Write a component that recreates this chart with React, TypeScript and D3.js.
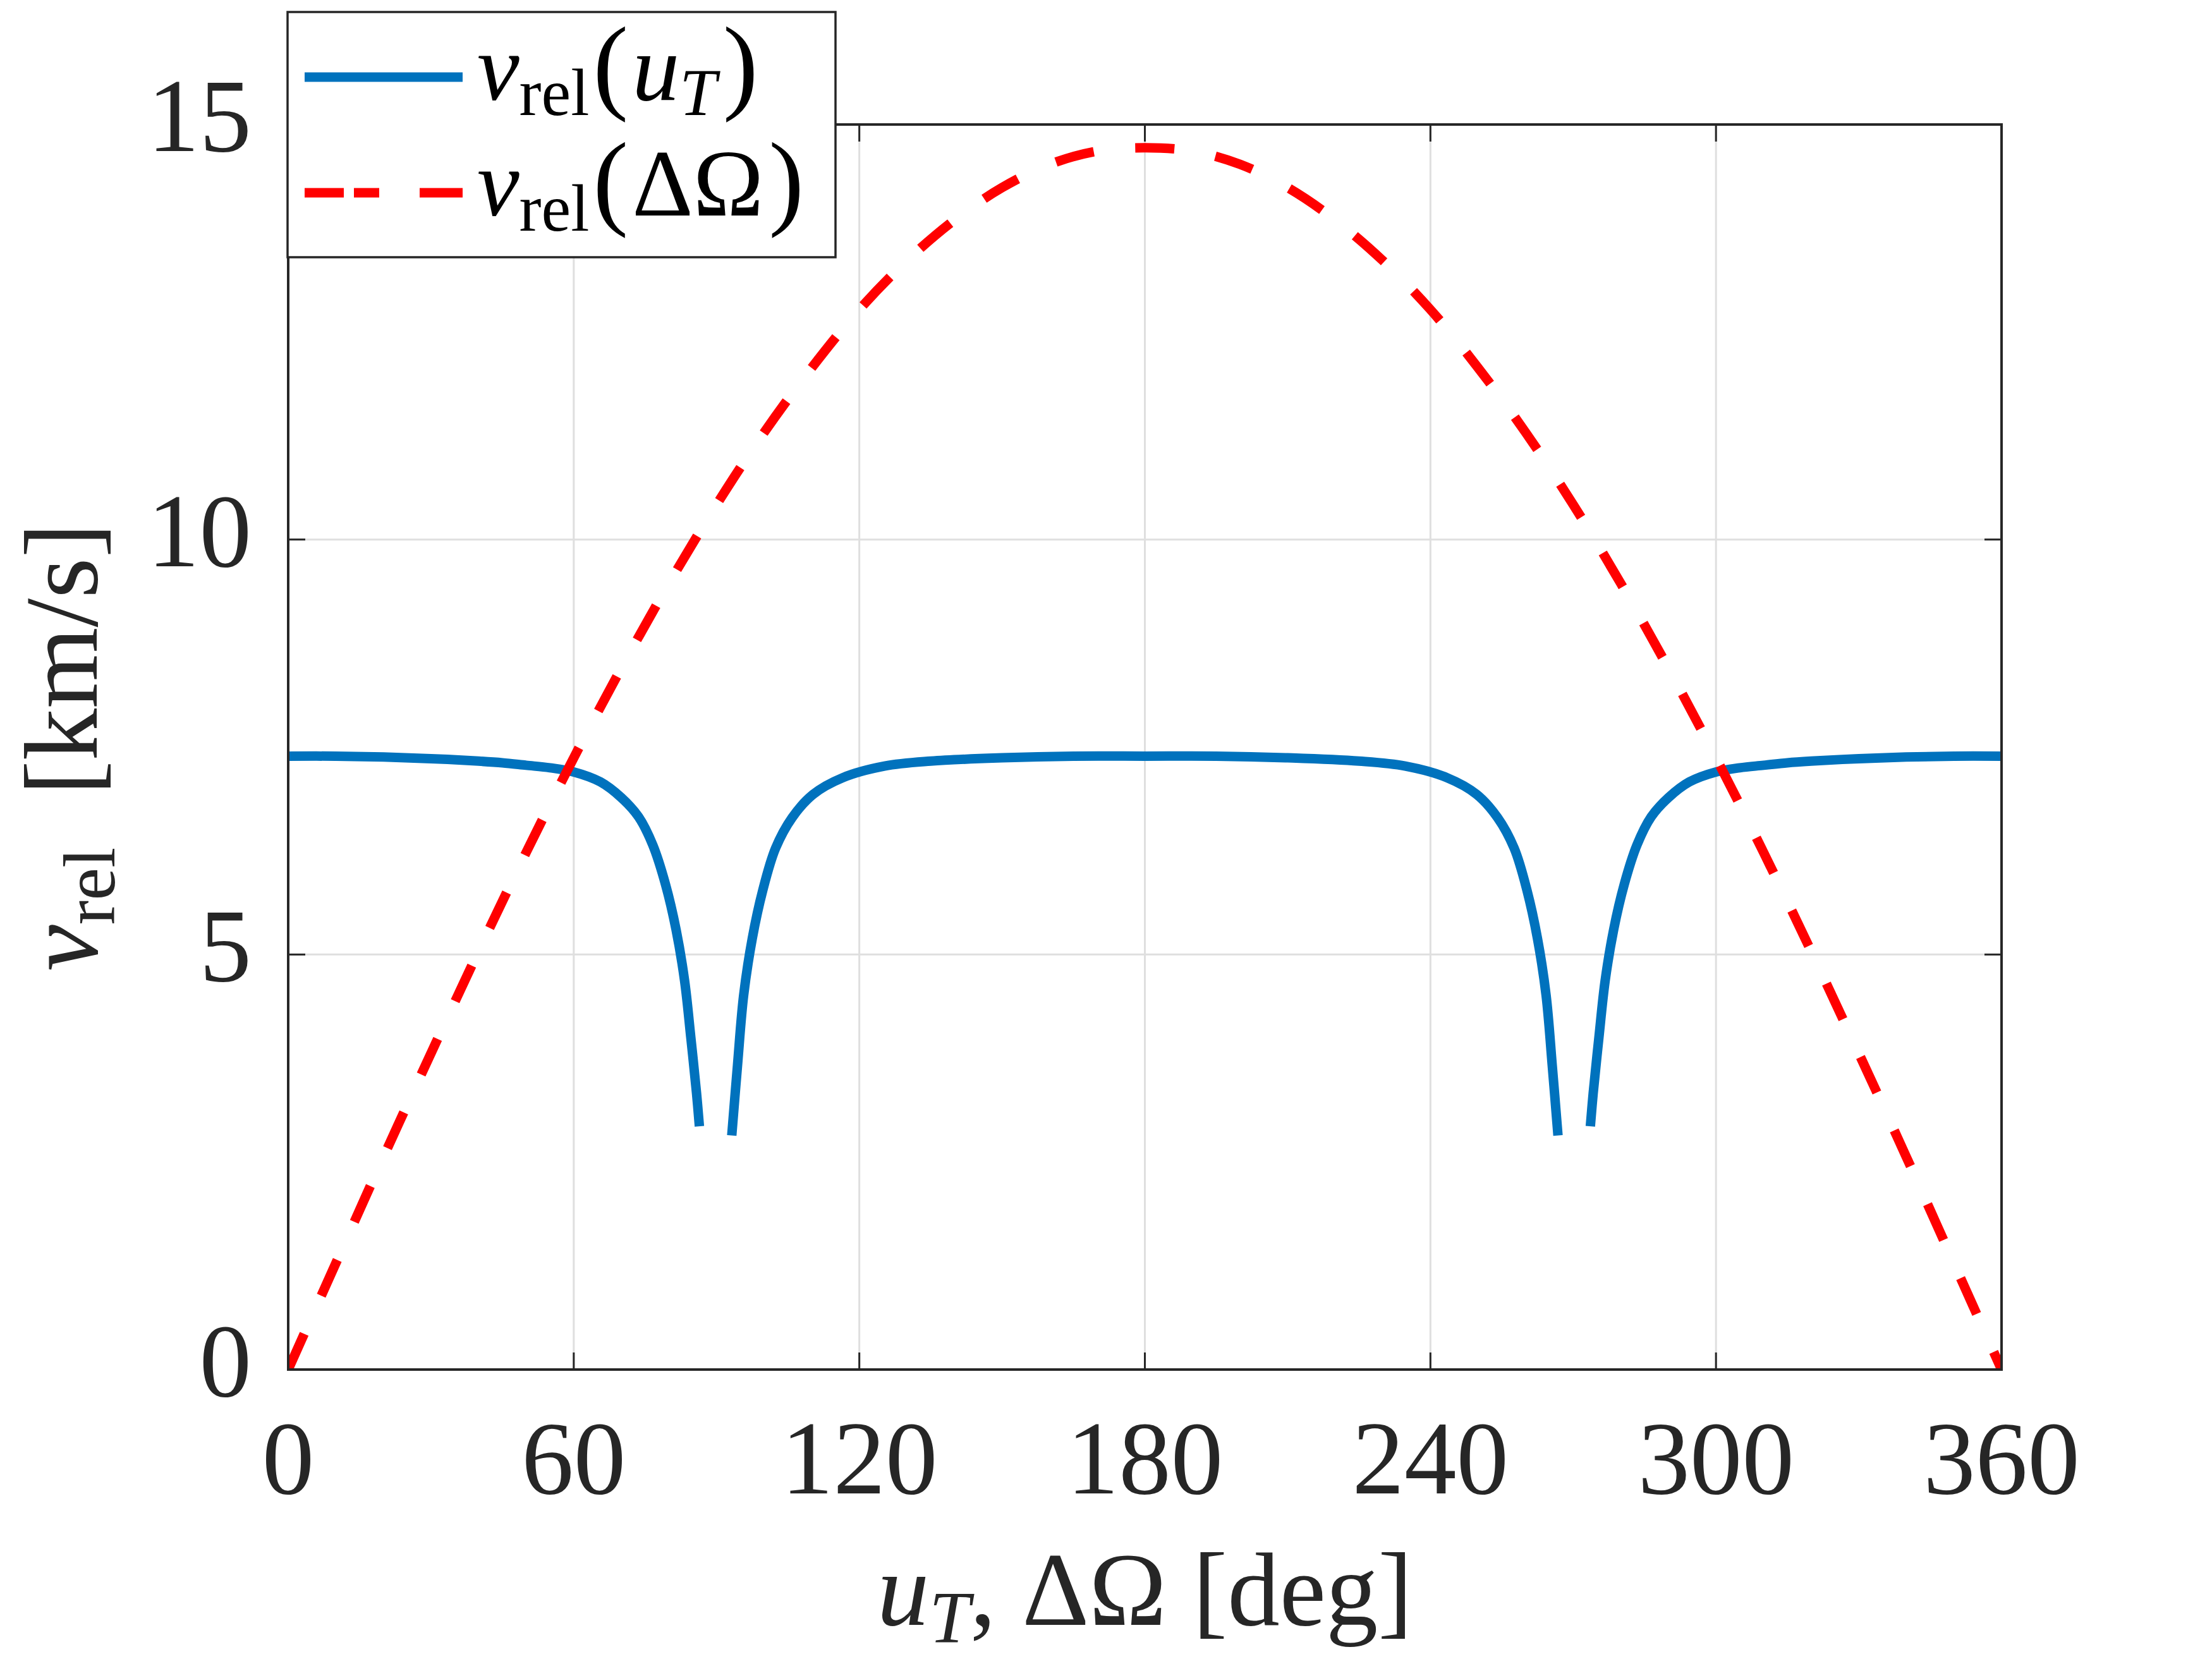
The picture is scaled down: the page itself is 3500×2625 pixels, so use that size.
import React from "react";
import * as d3 from "d3";

const W = 3500;
const H = 2625;
const plot = { left: 456, right: 3167, top: 197, bottom: 2167 };

const xTicks = [0, 60, 120, 180, 240, 300, 360];
const yTicks = [0, 5, 10, 15];
const xGrid = [60, 120, 180, 240, 300];
const yGrid = [5, 10];

// v_rel(ΔΩ), red dashed
const dOmega = [0, 10, 20, 30, 40, 50, 60, 70, 80, 90, 100, 110, 120, 130, 140, 150, 160, 170, 180,
  190, 200, 210, 220, 230, 240, 250, 260, 270, 280, 290, 300, 310, 320, 330, 340, 350, 360];
const vDOmega = [0, 1.28, 2.56, 3.81, 5.04, 6.23, 7.37, 8.45, 9.47, 10.42, 11.29, 12.07, 12.77, 13.36, 13.85, 14.24, 14.52, 14.68, 14.72,
  14.68, 14.52, 14.24, 13.85, 13.36, 12.77, 12.07, 11.29, 10.42, 9.47, 8.45, 7.37, 6.23, 5.04, 3.81, 2.56, 1.28, 0];

// v_rel(u_T), blue solid, three pieces (gaps near 90 and 270)
const uT1 = [0, 10, 20, 30, 40, 45, 50, 55, 60, 65.6, 70, 73.6, 76.6, 79.3, 81.5, 83.3, 84.6, 85.8, 86.4];
const vUT1 = [7.39, 7.39, 7.38, 7.36, 7.33, 7.31, 7.28, 7.25, 7.2, 7.08, 6.89, 6.66, 6.32, 5.84, 5.3, 4.68, 4.0, 3.33, 2.93];
const uT2 = [93.2, 94.4, 95.7, 97.5, 99.7, 102.4, 105.9, 110.3, 116.5, 125.3, 135, 150, 165, 180,
  195, 210, 225, 234.7, 243.5, 249.7, 254.1, 257.6, 260.3, 262.5, 264.3, 265.6, 266.8];
const vUT2 = [2.82, 3.66, 4.51, 5.19, 5.77, 6.28, 6.65, 6.93, 7.13, 7.27, 7.33, 7.37, 7.39, 7.39,
  7.39, 7.37, 7.33, 7.27, 7.13, 6.93, 6.65, 6.28, 5.77, 5.19, 4.51, 3.66, 2.82];
const uT3 = [273.6, 274.2, 275.4, 276.7, 278.5, 280.7, 283.4, 286.4, 290, 294.4, 300, 305, 310, 315, 320, 330, 340, 350, 360];
const vUT3 = [2.93, 3.33, 4.0, 4.68, 5.3, 5.84, 6.32, 6.66, 6.89, 7.08, 7.2, 7.25, 7.28, 7.31, 7.33, 7.36, 7.38, 7.39, 7.39];

const BLUE = "#0072BD";
const RED = "#FF0000";
const INK = "#262626";
const GRID = "#dfdfdf";
const FONT = "'Liberation Serif', 'DejaVu Serif', serif";

const App: React.FC = () => {
  const x = d3.scaleLinear().domain([0, 360]).range([plot.left, plot.right]);
  const y = d3.scaleLinear().domain([0, 15]).range([plot.bottom, plot.top]);

  const toPts = (xs: number[], ys: number[]) => xs.map((v, i) => [v, ys[i]] as [number, number]);
  const line = d3.line<[number, number]>()
    .x(d => x(d[0]))
    .y(d => y(d[1]))
    .curve(d3.curveCatmullRom.alpha(0.5));

  const bluePaths = [toPts(uT1, vUT1), toPts(uT2, vUT2), toPts(uT3, vUT3)].map(p => line(p) || "");
  const redPath = line(toPts(dOmega, vDOmega)) || "";

  const tickLen = 27;

  return (
    <div style={{ position: "absolute", left: 0, top: 0 }}>
      <svg width={W} height={H} viewBox={`0 0 ${W} ${H}`} style={{ display: "block", background: "#fff" }}>
        <rect x={0} y={0} width={W} height={H} fill="#fff" />

        {/* grid */}
        {xGrid.map(t => (
          <line key={"gx" + t} x1={x(t)} x2={x(t)} y1={plot.top} y2={plot.bottom} stroke={GRID} strokeWidth={3} />
        ))}
        {yGrid.map(t => (
          <line key={"gy" + t} x1={plot.left} x2={plot.right} y1={y(t)} y2={y(t)} stroke={GRID} strokeWidth={3} />
        ))}

        {/* ticks, inward on all four sides */}
        {xTicks.map(t => (
          <g key={"tx" + t} stroke={INK} strokeWidth={3}>
            <line x1={x(t)} x2={x(t)} y1={plot.bottom} y2={plot.bottom - tickLen} />
            <line x1={x(t)} x2={x(t)} y1={plot.top} y2={plot.top + tickLen} />
          </g>
        ))}
        {yTicks.map(t => (
          <g key={"ty" + t} stroke={INK} strokeWidth={3}>
            <line x1={plot.left} x2={plot.left + tickLen} y1={y(t)} y2={y(t)} />
            <line x1={plot.right} x2={plot.right - tickLen} y1={y(t)} y2={y(t)} />
          </g>
        ))}

        {/* data */}
        <defs>
          <clipPath id="clip">
            <rect x={plot.left} y={plot.top - 10} width={plot.right - plot.left} height={plot.bottom - plot.top + 10} />
          </clipPath>
        </defs>
        <g clipPath="url(#clip)">
          {bluePaths.map((d, i) => (
            <path key={"b" + i} d={d} fill="none" stroke={BLUE} strokeWidth={15} />
          ))}
          <path d={redPath} fill="none" stroke={RED} strokeWidth={15} strokeDasharray="62 66" />
        </g>

        {/* axes box */}
        <rect x={plot.left} y={plot.top} width={plot.right - plot.left} height={plot.bottom - plot.top}
          fill="none" stroke={INK} strokeWidth={4} />

        {/* tick labels */}
        {xTicks.map(t => (
          <text key={"lx" + t} x={x(t)} y={2363} textAnchor="middle" fontFamily={FONT} fontSize={165} fill={INK}>{t}</text>
        ))}
        {yTicks.map(t => (
          <text key={"ly" + t} x={398} y={y(t) + 42} textAnchor="end" fontFamily={FONT} fontSize={165} fill={INK}>{t}</text>
        ))}

        {/* x label */}
        <text x={(plot.left + plot.right) / 2} y={2571} textAnchor="middle" fontFamily={FONT} fontSize={165} fill={INK}>
          <tspan fontStyle="italic">u</tspan>
          <tspan fontStyle="italic" fontSize={116} dy={28}>T</tspan>
          <tspan dy={-28}>{", ΔΩ\u00a0[deg]"}</tspan>
        </text>

        {/* y label */}
        <text transform={`translate(153, ${(plot.top + plot.bottom) / 2}) rotate(-90)`} textAnchor="middle"
          fontFamily={FONT} fontSize={165} fill={INK}>
          <tspan fontStyle="italic">v</tspan>
          <tspan fontSize={116} dy={28}>rel</tspan>
          <tspan dy={-28}>{"\u00a0\u00a0[km/s]"}</tspan>
        </text>

        {/* legend */}
        <rect x={455} y={19} width={867} height={388} fill="#fff" stroke={INK} strokeWidth={3.5} />
        <line x1={482} x2={732} y1={122} y2={122} stroke={BLUE} strokeWidth={15} />
        <line x1={482} x2={732} y1={305} y2={305} stroke={RED} strokeWidth={15} strokeDasharray="62 16 40 64 70" />
        <text x={755} y={158} fontFamily={FONT} fontSize={150} fill="#000">
          <tspan fontStyle="italic">v</tspan>
          <tspan fontSize={105} dy={24}>rel</tspan>
          <tspan fontSize={168} dy={-24} dx={6}>(</tspan>
          <tspan fontStyle="italic" dx={6}>u</tspan>
          <tspan fontStyle="italic" fontSize={105} dy={24}>T</tspan>
          <tspan fontSize={168} dy={-24} dx={10}>)</tspan>
        </text>
        <text x={755} y={341} fontFamily={FONT} fontSize={150} fill="#000">
          <tspan fontStyle="italic">v</tspan>
          <tspan fontSize={105} dy={24}>rel</tspan>
          <tspan fontSize={168} dy={-24} dx={6}>(</tspan>
          <tspan dx={6}>ΔΩ</tspan>
          <tspan fontSize={168} dx={8}>)</tspan>
        </text>
      </svg>
    </div>
  );
};

export default App;
